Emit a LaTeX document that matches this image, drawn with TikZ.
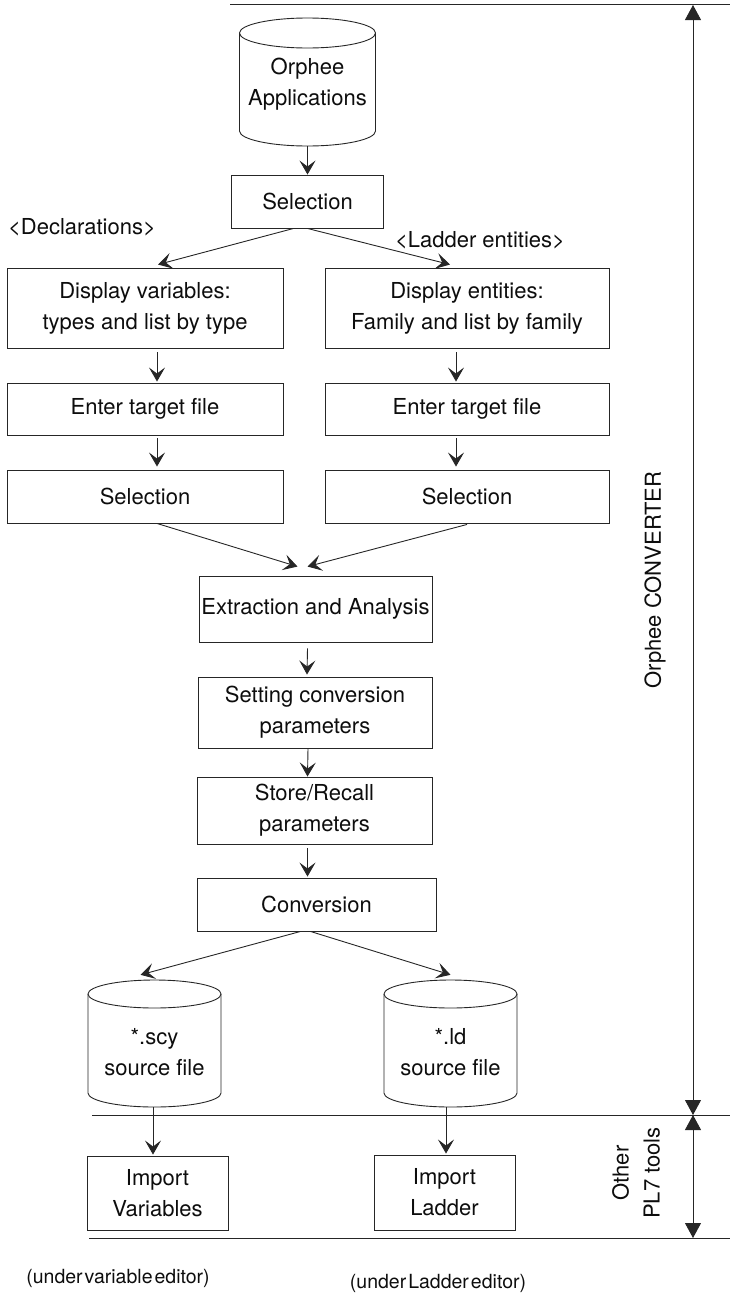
\documentclass[tikz,border=0pt]{standalone}
\usepackage{fontspec}
\setmainfont{TeX Gyre Heros}
\usetikzlibrary{arrows.meta,calc}

% cylinder outline: centre x, top y, bottom y, x radius, y radius
\newcommand\drumoutline[5]{%
  \draw[ink] (#1,{#2+#5}) ellipse [x radius=#4, y radius=#5];
  \draw[ink] ({#1-#4},{#2+#5}) -- ({#1-#4},{#3-#5})
    .. controls ({#1-#4},{#3-#5+0.5523*#5}) and ({#1-0.5523*#4},#3) .. (#1,#3)
    .. controls ({#1+0.5523*#4},#3) and ({#1+#4},{#3-#5+0.5523*#5}) .. ({#1+#4},{#3-#5})
    -- ({#1+#4},{#2+#5});
}

\tikzset{
  ink/.style={draw=black!85, line width=0.9pt},
  txt/.style={font=\fontsize{22}{31}\selectfont, text=black!95, inner sep=0pt, align=center},
  stepbox/.style={txt, ink, rectangle},
  slot/.style={rectangle, inner sep=0pt},
  flow/.style={ink, -{Stealth[length=14pt,width=16pt,inset=6pt]}},
  span/.style={ink, {Triangle[length=15pt,width=16pt]}-{Triangle[length=15pt,width=16pt]}},
  note/.style={font=\fontsize{19.5}{24}\selectfont, text=black!95, inner sep=0pt},
}

\begin{document}
\begin{tikzpicture}[x=1pt,y=-1pt]
\useasboundingbox (0,0) rectangle (730,1293);

% horizontal rules
\draw[ink] (230,4) -- (730,4);
\draw[ink] (92,1115) -- (730,1115);
\draw[ink] (89,1238) -- (730,1238);

% source database
\node[slot, minimum width=136pt, minimum height=128pt] (apps) at (307.5,82) {};
\drumoutline{307.5}{18}{146}{68}{15}
\node[txt] (appstext) at (307.5,84) {Orphee\\Applications};

\node[stepbox, minimum width=152pt, minimum height=53pt] (sel) at (307.5,201.5) {Selection};

\node[txt] (decl) at (82,227) {<Declarations>};
\node[txt] (ladd) at (480,240) {<Ladder entities>};

% left branch
\node[stepbox, minimum width=276pt, minimum height=80pt] (dv) at (145,308) {Display variables:\\types and list by type};
\node[stepbox, minimum width=276pt, minimum height=52pt] (tl) at (145,409) {Enter target file};
\node[stepbox, minimum width=276pt, minimum height=53pt] (sl) at (145,496.5) {Selection};

% right branch
\node[stepbox, minimum width=284pt, minimum height=80pt] (de) at (467,308) {Display entities:\\Family and list by family};
\node[stepbox, minimum width=284pt, minimum height=52pt] (tr) at (467,409) {Enter target file};
\node[stepbox, minimum width=284pt, minimum height=53pt] (sr) at (467,496.5) {Selection};

% common trunk
\node[stepbox, minimum width=233pt, minimum height=66pt] (ext) at (315.5,609) {\raisebox{-7pt}{Extraction and Analysis}};
\node[stepbox, minimum width=234pt, minimum height=71pt] (set) at (315,712.5) {Setting conversion\\parameters};
\node[stepbox, minimum width=235pt, minimum height=67pt] (store) at (314.5,810.5) {Store/Recall\\parameters};
\node[stepbox, minimum width=239pt, minimum height=53pt] (conv) at (316.5,904.5) {Conversion};

% generated files
\node[slot, minimum width=133pt, minimum height=127pt] (scy) at (154.5,1043.5) {};
\drumoutline{154.5}{980}{1107}{66.5}{14}
\node[txt] (scytext) at (154.5,1052) {*.scy\\source file};

\node[slot, minimum width=133pt, minimum height=127pt] (ldf) at (450.5,1043.5) {};
\drumoutline{450.5}{980}{1107}{66.5}{14}
\node[txt] (ldtext) at (450.5,1052) {*.ld\\source file};

% import tools
\node[stepbox, minimum width=141pt, minimum height=74pt] (iv) at (157.5,1193) {Import\\Variables};
\node[stepbox, minimum width=141pt, minimum height=75pt] (il) at (444.5,1192.5) {Import\\Ladder};

\node[note] (nv) at (118,1278) {(under\kern2pt variable\kern2pt editor)};
\node[note] (nl) at (438,1283) {(under\kern2pt Ladder\kern2pt editor)};

% flow connectors
\draw[flow] (apps.south) -- (sel.north);
\draw[flow] ($(sel.south)+(-14,0)$) -- ($(dv.north)+(13,-3)$);
\draw[flow] (sel.south) -- ($(de.north)+(-17,-3)$);
\draw[flow] ($(dv.south)+(12,4)$) -- ($(tl.north)+(12,-1)$);
\draw[flow] ($(tl.south)+(12,3)$) -- ($(sl.north)+(12,-3)$);
\draw[flow] ($(de.south)+(-11,4)$) -- ($(tr.north)+(-11,-1)$);
\draw[flow] ($(tr.south)+(-11,3)$) -- ($(sr.north)+(-11,-3)$);
\draw[flow] ($(sl.south)+(12,0)$) -- ($(ext.north)+(-18,-9)$);
\draw[flow] ($(sr.south)+(0,1)$) -- ($(ext.north)+(-8,-9)$);
\draw[flow] ($(ext.south)+(-8,6)$) -- ($(set.north)+(-8,-2)$);
\draw[flow] ($(set.south)+(-7,0)$) -- ($(store.north)+(-7,0)$);
\draw[flow] ($(store.south)+(-7,4)$) -- ($(conv.north)+(-9,-1)$);
\draw[flow] ($(conv.south)+(-16,0)$) -- ($(scy.north)+(-14,-5)$);
\draw[flow] ($(conv.south)+(-6,0)$) -- ($(ldf.north)+(0,-5)$);
\draw[flow] ($(scy.south)+(-1.5,0)$) -- ($(iv.north)+(-4.5,-1)$);
\draw[flow] ($(ldf.south)+(-4.5,0)$) -- ($(il.north)+(1.5,-1)$);

% extent markers on the right
\coordinate (d1) at (693,5);
\coordinate (d2) at (693,1115);
\coordinate (d3) at (693,1238);
\draw[span] (d1) -- (d2);
\draw[span] (d2) -- (d3);
\node[txt, rotate=90] (convname) at (655,580) {Orphee CONVERTER};
\node[txt, rotate=90] (othername) at (636,1173) {Other\\PL7 tools};
\end{tikzpicture}
\end{document}
